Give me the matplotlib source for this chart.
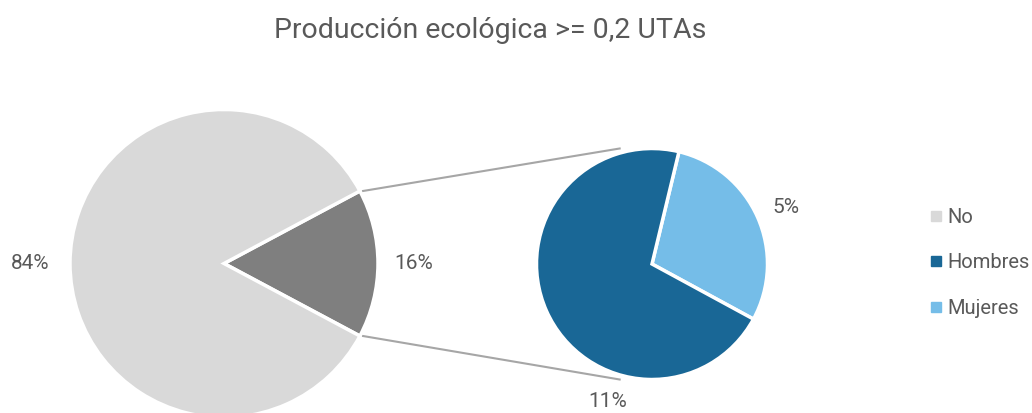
import numpy as np
import matplotlib
matplotlib.use("Agg")
import matplotlib.pyplot as plt
from matplotlib.lines import Line2D

plt.rcParams['font.family'] = ['Roboto', 'DejaVu Sans']

# ---- data ----
title = "Producción ecológica >= 0,2 UTAs"
main_labels = ["Producción ecológica", "No"]
main_values = [15.6, 84.4]
sub_labels = ["Mujeres", "Hombres"]
sub_values = [4.55, 11.05]
legend_labels = ["No", "Hombres", "Mujeres"]

c_no = "#d9d9d9"
c_eco = "#7f7f7f"
c_hom = "#196796"
c_muj = "#75bde8"
text_c = "#595959"
line_c = "#a6a6a6"

W, H = 1032, 413
fig = plt.figure(figsize=(W / 100, H / 100), dpi=100)
ax = fig.add_axes([0, 0, 1, 1])

# main pie
c1 = (224, H - 263.5)
r1 = 154
eco_span = main_values[0] / sum(main_values) * 360
start1 = -eco_span / 2
ax.pie(main_values, colors=[c_eco, c_no], startangle=start1,
       center=c1, radius=r1, counterclock=True,
       wedgeprops=dict(edgecolor='white', linewidth=2.5), frame=True)

# secondary pie
c2 = (652, H - 264)
r2 = 115.5
start2 = -28.5
ax.pie(sub_values, colors=[c_muj, c_hom], startangle=start2,
       center=c2, radius=r2, counterclock=True,
       wedgeprops=dict(edgecolor='white', linewidth=2.5), frame=True)
ax.set_xlim(0, W)
ax.set_ylim(0, H)
ax.set_aspect('equal')
ax.axis('off')

# connector lines
for sgn in (1, -1):
    a = np.deg2rad(sgn * eco_span / 2)
    p0 = (c1[0] + r1 * np.cos(a) + 3, c1[1] + r1 * np.sin(a))
    p1 = (c2[0] - 0.28 * r2, c2[1] + sgn * r2)
    ax.add_line(Line2D([p0[0], p1[0]], [p0[1], p1[1]], color=line_c, lw=1.5, zorder=0))

fs = 15
def place(center, r, ang, txt):
    a = np.deg2rad(ang)
    ax.text(center[0] + r * np.cos(a), center[1] + r * np.sin(a), txt,
            ha='center', va='center', fontsize=fs, color=text_c)

place(c1, r1 * 1.26, 180, f"{round(main_values[1])}%")
place(c1, r1 * 1.23, 0, f"{round(main_values[0])}%")
place(c2, r2 * 1.26, 23, f"{round(sub_values[0])}%")
place(c2, r2 * 1.25, -108, f"{round(sub_values[1])}%")

ax.text(W / 2 - 26, H - 31, title, ha='center', va='center', fontsize=20.5, color=text_c)

handles = [Line2D([], [], marker='s', ls='', markersize=7, color=c)
           for c in [c_no, c_hom, c_muj]]
leg = ax.legend(handles, legend_labels, loc='center left', bbox_to_anchor=(918 / W, 1 - 263 / H),
                frameon=False, fontsize=14.5, labelspacing=1.3, handletextpad=0.05,
                handlelength=1.0, borderaxespad=0)
for t in leg.get_texts():
    t.set_color(text_c)

fig.savefig("out.png", dpi=100, facecolor='white')
